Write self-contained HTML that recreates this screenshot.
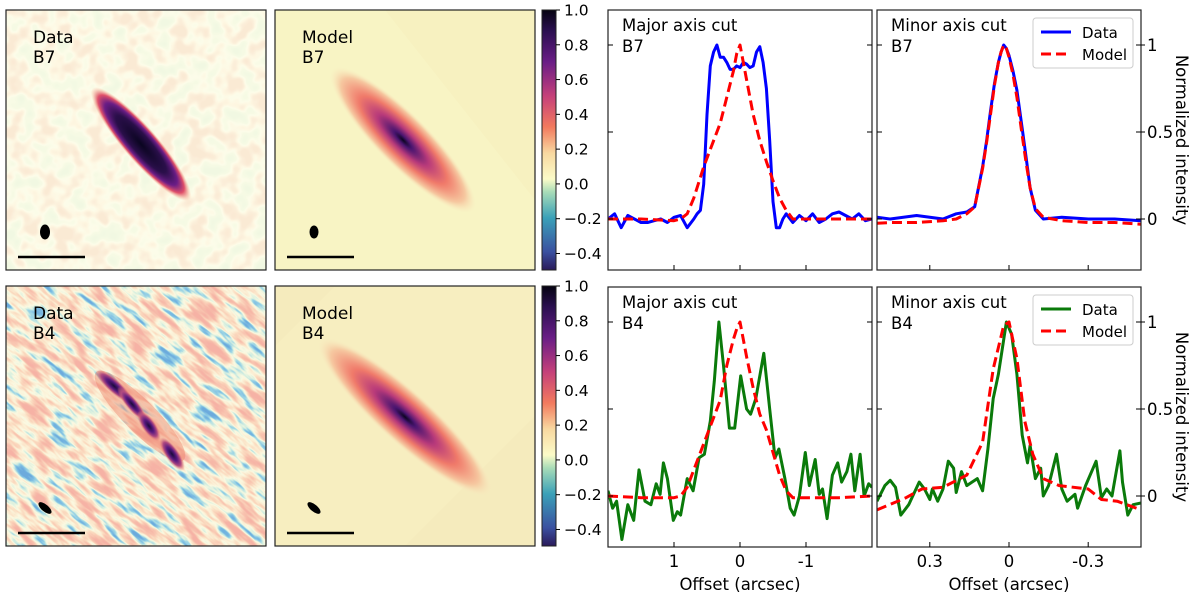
<!DOCTYPE html>
<html><head><meta charset="utf-8">
<style>
html,body{margin:0;padding:0;background:#fff;overflow:hidden;width:1200px;height:596px;}
svg{display:block;font-family:"DejaVu Sans","Liberation Sans",sans-serif;}
</style></head>
<body>
<svg id="fig" width="1200" height="596" viewBox="0 0 1200 596" xmlns="http://www.w3.org/2000/svg">
<defs>
<filter id="nzB4" x="-200" y="-200" width="800" height="800" filterUnits="userSpaceOnUse">
<feTurbulence type="fractalNoise" baseFrequency="0.03 0.12" numOctaves="3" seed="4"/>
<feColorMatrix type="matrix" values="1.6 0 0 0 -0.3 1.6 0 0 0 -0.3 1.6 0 0 0 -0.3 0 0 0 0 1"/>
<feComponentTransfer>
<feFuncR type="table" tableValues="0.15 0.2 0.35 0.72 0.96 0.97 0.96 0.95 0.93 0.92 0.92"/>
<feFuncG type="table" tableValues="0.4 0.5 0.68 0.88 0.95 0.85 0.7 0.58 0.5 0.45 0.45"/>
<feFuncB type="table" tableValues="0.72 0.76 0.78 0.74 0.76 0.65 0.52 0.45 0.4 0.38 0.38"/>
</feComponentTransfer>
</filter>
<filter id="nzB7" x="-200" y="-200" width="800" height="800" filterUnits="userSpaceOnUse">
<feTurbulence type="fractalNoise" baseFrequency="0.06" numOctaves="2" seed="7"/>
<feColorMatrix type="matrix" values="1.8 0 0 0 -0.4 1.8 0 0 0 -0.4 1.8 0 0 0 -0.4 0 0 0 0 1"/>
<feComponentTransfer>
<feFuncR type="table" tableValues="0.88 0.9 0.93 0.98 0.99 0.97 0.96 0.96"/>
<feFuncG type="table" tableValues="0.94 0.95 0.96 0.98 0.93 0.86 0.82 0.82"/>
<feFuncB type="table" tableValues="0.76 0.77 0.78 0.82 0.76 0.7 0.66 0.66"/>
</feComponentTransfer>
</filter>
<radialGradient id="gDataB7">
<stop offset="0" stop-color="#0a0520"/><stop offset="0.5" stop-color="#2a0f4a"/>
<stop offset="0.72" stop-color="#6a1d86"/><stop offset="0.86" stop-color="#e0506a"/>
<stop offset="1" stop-color="#f7b890" stop-opacity="0"/></radialGradient>
<radialGradient id="gModel">
<stop offset="0" stop-color="#0a0520"/><stop offset="0.12" stop-color="#4a1570"/>
<stop offset="0.35" stop-color="#b83a7a"/><stop offset="0.6" stop-color="#f07a6a"/>
<stop offset="0.85" stop-color="#f6c8a0"/><stop offset="1" stop-color="#f8eac0" stop-opacity="0"/></radialGradient>
<radialGradient id="gDataB4">
<stop offset="0" stop-color="#1a0a3a"/><stop offset="0.4" stop-color="#5a1a80"/>
<stop offset="0.7" stop-color="#b04a80"/><stop offset="1" stop-color="#f08070" stop-opacity="0"/></radialGradient>
<linearGradient id="cbar" x1="0" y1="1" x2="0" y2="0">
<stop offset="0" stop-color="#2a1a5a"/><stop offset="0.07" stop-color="#3a50a0"/>
<stop offset="0.2" stop-color="#3aa0b8"/><stop offset="0.3" stop-color="#a8dcb8"/>
<stop offset="0.35" stop-color="#fbfbc8"/><stop offset="0.45" stop-color="#f8d8a0"/>
<stop offset="0.55" stop-color="#f27a5e"/><stop offset="0.67" stop-color="#c5407a"/>
<stop offset="0.8" stop-color="#6a1d86"/><stop offset="0.92" stop-color="#2a0f50"/>
<stop offset="1" stop-color="#050310"/></linearGradient>
</defs>
<g id="images"></g>
<g id="charts"></g>
</svg>
<script>
// ---------- chart data ----------
const majB7X = [2.0,1.9,1.8,1.7,1.6,1.5,1.4,1.3,1.2,1.1,1.0,0.9,0.8,0.7,0.65,0.6,0.55,0.5,0.45,0.4,0.35,0.3,0.25,0.2,0.15,0.1,0.05,0,-0.05,-0.1,-0.15,-0.2,-0.25,-0.3,-0.35,-0.4,-0.45,-0.5,-0.55,-0.6,-0.65,-0.7,-0.8,-0.9,-1.0,-1.1,-1.2,-1.3,-1.4,-1.5,-1.6,-1.7,-1.8,-1.9,-2.0];
const majB7Data = [0.0,0.03,-0.05,0.02,0.0,-0.02,-0.02,-0.01,0.0,-0.02,0.01,0.02,-0.05,0.0,0.03,0.05,0.2,0.6,0.88,0.96,1.0,0.93,0.93,0.9,0.86,0.86,0.88,0.87,0.9,0.89,0.87,0.88,0.96,0.99,0.9,0.75,0.45,0.1,-0.05,-0.05,0.0,0.03,-0.02,0.02,-0.01,0.03,-0.02,0.0,0.03,0.04,0.02,0.0,0.03,-0.01,0.0];
const majModelX = [2.0,1.5,1.0,0.9,0.8,0.7,0.55,0.4,0.3,0.2,0.1,0.05,0,-0.05,-0.1,-0.2,-0.3,-0.4,-0.5,-0.6,-0.7,-0.8,-0.9,-1.5,-2.0];
const majB7Model = [0.0,0.0,-0.01,0.0,0.03,0.12,0.3,0.45,0.55,0.7,0.85,0.95,1.0,0.9,0.8,0.6,0.45,0.33,0.22,0.12,0.05,0.0,0.0,0.0,0.0];
const minB7X = [0.5,0.45,0.35,0.25,0.2,0.16,0.13,0.1,0.085,0.07,0.055,0.04,0.03,0.02,0.01,0,-0.015,-0.03,-0.05,-0.065,-0.08,-0.1,-0.13,-0.2,-0.3,-0.4,-0.5];
const minB7Data = [0.01,0.0,0.02,0.0,0.03,0.04,0.07,0.3,0.45,0.62,0.78,0.9,0.96,1.0,0.98,0.94,0.85,0.74,0.52,0.35,0.18,0.05,0.0,0.01,0.0,0.0,-0.01];
const minB7Model = [-0.025,-0.02,-0.02,-0.01,0.0,0.03,0.07,0.29,0.44,0.6,0.77,0.9,0.96,1.0,0.98,0.93,0.83,0.7,0.48,0.32,0.18,0.06,0.01,-0.01,-0.02,-0.02,-0.03];
const majB4X = [2.0,1.93,1.87,1.79,1.7,1.61,1.53,1.44,1.35,1.27,1.21,1.16,1.10,1.01,0.95,0.9,0.8,0.71,0.62,0.54,0.45,0.39,0.32,0.25,0.16,0.08,-0.01,-0.1,-0.16,-0.24,-0.36,-0.45,-0.53,-0.59,-0.68,-0.76,-0.82,-0.9,-0.99,-1.05,-1.14,-1.2,-1.25,-1.32,-1.4,-1.48,-1.54,-1.62,-1.68,-1.74,-1.82,-1.88,-1.95,-2.0];
const majB4Data = [0.03,-0.07,-0.03,-0.25,-0.05,-0.14,0.15,-0.03,-0.05,0.07,0.01,0.19,0.1,-0.14,-0.09,-0.11,0.1,0.03,0.22,0.24,0.43,0.66,1.0,0.75,0.39,0.39,0.69,0.5,0.47,0.56,0.82,0.5,0.22,0.27,0.1,-0.07,-0.11,0.0,0.25,0.06,0.21,0.01,0.04,-0.13,0.12,0.19,0.08,0.14,0.24,0.03,0.24,0.0,0.07,0.05];
const majB4Model = [0.0,-0.01,-0.01,0.0,0.05,0.15,0.3,0.45,0.55,0.75,0.9,0.96,1.0,0.9,0.8,0.62,0.47,0.38,0.25,0.12,0.03,-0.01,-0.01,-0.01,0.0];
const minB4X = [0.5,0.47,0.45,0.43,0.41,0.38,0.34,0.32,0.3,0.29,0.27,0.25,0.23,0.21,0.2,0.18,0.16,0.14,0.12,0.1,0.08,0.06,0.04,0.01,-0.01,-0.03,-0.05,-0.07,-0.08,-0.1,-0.12,-0.13,-0.15,-0.18,-0.2,-0.22,-0.25,-0.26,-0.29,-0.33,-0.35,-0.37,-0.39,-0.42,-0.43,-0.45,-0.47,-0.5];
const minB4Data = [-0.03,0.06,0.09,0.05,-0.11,-0.05,0.08,0.04,-0.02,0.04,-0.03,0.04,0.2,0.16,0.02,0.14,0.06,0.08,0.1,0.03,0.27,0.56,0.7,1.0,0.93,0.7,0.35,0.19,0.29,0.1,0.16,0.0,0.06,0.24,0.04,-0.03,0.01,-0.07,0.06,0.2,-0.01,0.04,0.0,0.26,0.08,-0.11,-0.05,-0.04];
const minB4ModelX = [0.5,0.39,0.33,0.25,0.16,0.1,0.06,0.02,0,-0.03,-0.06,-0.09,-0.13,-0.19,-0.3,-0.35,-0.41,-0.5];
const minB4Model = [-0.08,-0.01,0.04,0.05,0.12,0.31,0.73,0.98,1.0,0.79,0.43,0.24,0.1,0.06,0.04,-0.02,-0.03,-0.08];
const majTicks = [1,0,-1];
const majTickLabels = ["1","0","-1"];
const minTicks = [0.3,0,-0.3];
const minTickLabels = ["0.3","0","-0.3"];
const yTicks = [1,0.5,0];
const yTickLabels = ["1","0.5","0"];
const cbTicks = [1.0,0.8,0.6,0.4,0.2,0.0,-0.2,-0.4];
const cbTickLabels = ["1.0","0.8","0.6","0.4","0.2","0.0","\u22120.2","\u22120.4"];

const NS = "http://www.w3.org/2000/svg";
function mk(tag, attrs, parent){ const e=document.createElementNS(NS,tag); for(const k in attrs) e.setAttribute(k,attrs[k]); if(parent) parent.appendChild(e); return e; }
function txt(s, attrs, parent){ const e=mk("text",attrs,parent); e.textContent=s; return e; }

// ---------- images ----------
const IM = document.getElementById("images");
function imgPanel(x,y,name){
  const s = mk("svg",{x:x,y:y,width:260,height:260},IM);
  
  
  return s;
}
// Data B7
let p = imgPanel(6,10,"data-b7-image");
mk("rect",{x:0,y:0,width:260,height:260,fill:"#f6f4cc"},p);
mk("rect",{x:0,y:0,width:260,height:260,filter:"url(#nzB7)"},p);
mk("ellipse",{cx:0,cy:0,rx:74,ry:17,fill:"url(#gDataB7)",transform:"translate(135,134) rotate(49)"},p);
// Model B7
p = imgPanel(275,10,"model-b7-image");
mk("rect",{x:0,y:0,width:260,height:260,fill:"#f7f1c0"},p);
mk("polygon",{points:"0,0 110,0 260,190 260,260 0,260",fill:"#f8f4c4"},p);
mk("ellipse",{cx:0,cy:0,rx:100,ry:26,fill:"url(#gModel)",transform:"translate(128,130) rotate(45)"},p);
// Data B4
p = imgPanel(6,286,"data-b4-image");
mk("rect",{x:0,y:0,width:260,height:260,fill:"#f0c8a0"},p);
const gr = mk("g",{transform:"rotate(40 130 130)"},p);
mk("rect",{x:-100,y:-100,width:460,height:460,filter:"url(#nzB4)"},gr);
mk("ellipse",{cx:0,cy:0,rx:62,ry:16,fill:"#ee8068",opacity:"0.45",transform:"translate(134,130) rotate(45)"},p);
mk("ellipse",{cx:0,cy:0,rx:24,ry:7,fill:"url(#gDataB4)",transform:"translate(108,100) rotate(42)"},p);
mk("ellipse",{cx:0,cy:0,rx:22,ry:6,fill:"url(#gDataB4)",transform:"translate(126,118) rotate(50)"},p);
mk("ellipse",{cx:0,cy:0,rx:18,ry:7,fill:"url(#gDataB4)",transform:"translate(143,140) rotate(55)"},p);
mk("ellipse",{cx:0,cy:0,rx:20,ry:7,fill:"url(#gDataB4)",transform:"translate(166,168) rotate(55)"},p);
// Model B4
p = imgPanel(275,286,"model-b4-image");
mk("rect",{x:0,y:0,width:260,height:260,fill:"#f5ebbd"},p);
mk("polygon",{points:"0,60 60,0 260,0 260,130 130,260 0,260",fill:"#f7eec0"},p);
mk("ellipse",{cx:0,cy:0,rx:115,ry:26,fill:"url(#gModel)",transform:"translate(130,131) rotate(42)"},p);

function overlay(x,y,l1,l2,beamRot,beamRx,beamRy,pre){
  let r = mk("rect",{x:x,y:y,width:260,height:260,fill:"none",stroke:"#222","stroke-width":1.2},IM);
   
  let t = txt(l1,{x:x+27,y:y+33,"font-size":17,fill:"#000"},IM);
   
  t = txt(l2,{x:x+27,y:y+53,"font-size":17,fill:"#000"},IM);
   
  let b = mk("ellipse",{cx:0,cy:0,rx:beamRx,ry:beamRy,fill:"#000",transform:`translate(${x+39},${y+222}) rotate(${beamRot})`},IM);
   
  let s = mk("line",{x1:x+12,x2:x+79,y1:y+247,y2:y+247,stroke:"#000","stroke-width":2.5},IM);
   
}
overlay(6,10,"Data","B7",0,5,7.5,"data-b7");
overlay(275,10,"Model","B7",0,4.5,6.5,"model-b7");
overlay(6,286,"Data","B4",-50,3.5,8,"data-b4");
overlay(275,286,"Model","B4",-50,3.5,8,"model-b4");

function colorbar(y0,pre){
  const top=y0, h=260, x=542, w=14;
  let r = mk("rect",{x:x,y:top,width:w,height:h,fill:"url(#cbar)",stroke:"#222","stroke-width":1},IM);
   
  const sc = v => top + (1.0 - v)/1.495*h;
  cbTicks.forEach((v,i)=>{
    const yy = sc(v);
    mk("line",{x1:x+w,x2:x+w+4,y1:yy,y2:yy,stroke:"#000","stroke-width":1},IM);
    const t = txt(cbTickLabels[i],{x:x+w+8,y:yy+5.5,"font-size":15.5,fill:"#000"},IM);
     
  });
}
colorbar(10,"top");
colorbar(286,"bottom");

// ---------- charts ----------
const CH = document.getElementById("charts");
function panel(px,py,w,h,xmax,xmin,ticks,tickLabels,showXLabels,rightLabels,title,band,series,legendColor,pre){
  const g = mk("g",{},CH);
   
  const xs = v => px + (xmax - v)/(xmax - xmin)*w;
  const ys = v => py + 209 - v*174;
  const clip = mk("svg",{x:px,y:py,width:w,height:h},g);
  series.forEach(s=>{
    const pts = s.x.map((xv,i)=> (xs(xv)-px).toFixed(1)+","+(ys(s.y[i])-py).toFixed(1)).join(" ");
    const pl = mk("polyline",{points:pts,fill:"none",stroke:s.color,"stroke-width":3,"stroke-linejoin":"round","stroke-dasharray":s.dash||"none"},clip);
    
    
  });
  const fr = mk("rect",{x:px,y:py,width:w,height:h,fill:"none",stroke:"#222","stroke-width":1.2},g);
   
  ticks.forEach((v,i)=>{
    const xx = xs(v);
    mk("line",{x1:xx,x2:xx,y1:py+h,y2:py+h-5,stroke:"#000","stroke-width":1},g);
    if(showXLabels){
      const t = txt(tickLabels[i],{x:xx,y:py+h+20,"font-size":16.5,"text-anchor":"middle",fill:"#000"},g);
       
    }
  });
  yTicks.forEach((v,i)=>{
    const yy = ys(v);
    mk("line",{x1:px,x2:px+5,y1:yy,y2:yy,stroke:"#000","stroke-width":1},g);
    mk("line",{x1:px+w,x2:px+w-5,y1:yy,y2:yy,stroke:"#000","stroke-width":1},g);
    if(rightLabels){
      mk("line",{x1:px+w,x2:px+w+4,y1:yy,y2:yy,stroke:"#000","stroke-width":1},g);
      const t = txt(yTickLabels[i],{x:px+w+6,y:yy+6,"font-size":16.5,fill:"#000"},g);
       
    }
  });
  let t = txt(title,{x:px+14,y:py+21,"font-size":16.5,fill:"#000"},g);
   
  t = txt(band,{x:px+14,y:py+42,"font-size":16.5,fill:"#000"},g);
   
  if(showXLabels){
    t = txt("Offset (arcsec)",{x:px+w/2,y:py+h+43,"font-size":16.5,"text-anchor":"middle",fill:"#000"},g);
     
  }
  if(rightLabels){
    t = txt("Normalized intensity",{x:0,y:0,"font-size":16.5,"text-anchor":"middle",fill:"#000",transform:`translate(${px+w+35},${py+h/2}) rotate(90)`},g);
     
  }
  if(legendColor){
    const lg = mk("g",{},g);
     
    mk("rect",{x:px+156,y:py+8,width:100,height:50,rx:3,fill:"#fff",stroke:"#ccc","stroke-width":1},lg);
    mk("line",{x1:px+164,x2:px+194,y1:py+22,y2:py+22,stroke:legendColor,"stroke-width":3},lg);
    mk("line",{x1:px+164,x2:px+194,y1:py+44,y2:py+44,stroke:"#ff0000","stroke-width":3,"stroke-dasharray":"10 5"},lg);
    let e = txt("Data",{x:px+205,y:py+28,"font-size":15,fill:"#000"},lg);
     
    e = txt("Model",{x:px+205,y:py+50,"font-size":15,fill:"#000"},lg);
     
  }
}
panel(608,10,264,260,2,-2,majTicks,majTickLabels,false,false,"Major axis cut","B7",
  [{x:majB7X,y:majB7Data,color:"#0000ff",name:"major-b7-data-line"},{x:majModelX,y:majB7Model,color:"#ff0000",dash:"10 5",name:"major-b7-model-line"}],null,"major-b7");
panel(877,10,264,260,0.5,-0.5,minTicks,minTickLabels,false,true,"Minor axis cut","B7",
  [{x:minB7X,y:minB7Data,color:"#0000ff",name:"minor-b7-data-line"},{x:minB7X,y:minB7Model,color:"#ff0000",dash:"10 5",name:"minor-b7-model-line"}],"#0000ff","minor-b7");
panel(608,287,264,260,2,-2,majTicks,majTickLabels,true,false,"Major axis cut","B4",
  [{x:majB4X,y:majB4Data,color:"#0a7a0a",name:"major-b4-data-line"},{x:majModelX,y:majB4Model,color:"#ff0000",dash:"10 5",name:"major-b4-model-line"}],null,"major-b4");
panel(877,287,264,260,0.5,-0.5,minTicks,minTickLabels,true,true,"Minor axis cut","B4",
  [{x:minB4X,y:minB4Data,color:"#0a7a0a",name:"minor-b4-data-line"},{x:minB4ModelX,y:minB4Model,color:"#ff0000",dash:"10 5",name:"minor-b4-model-line"}],"#0a7a0a","minor-b4");
</script>
</body></html>
